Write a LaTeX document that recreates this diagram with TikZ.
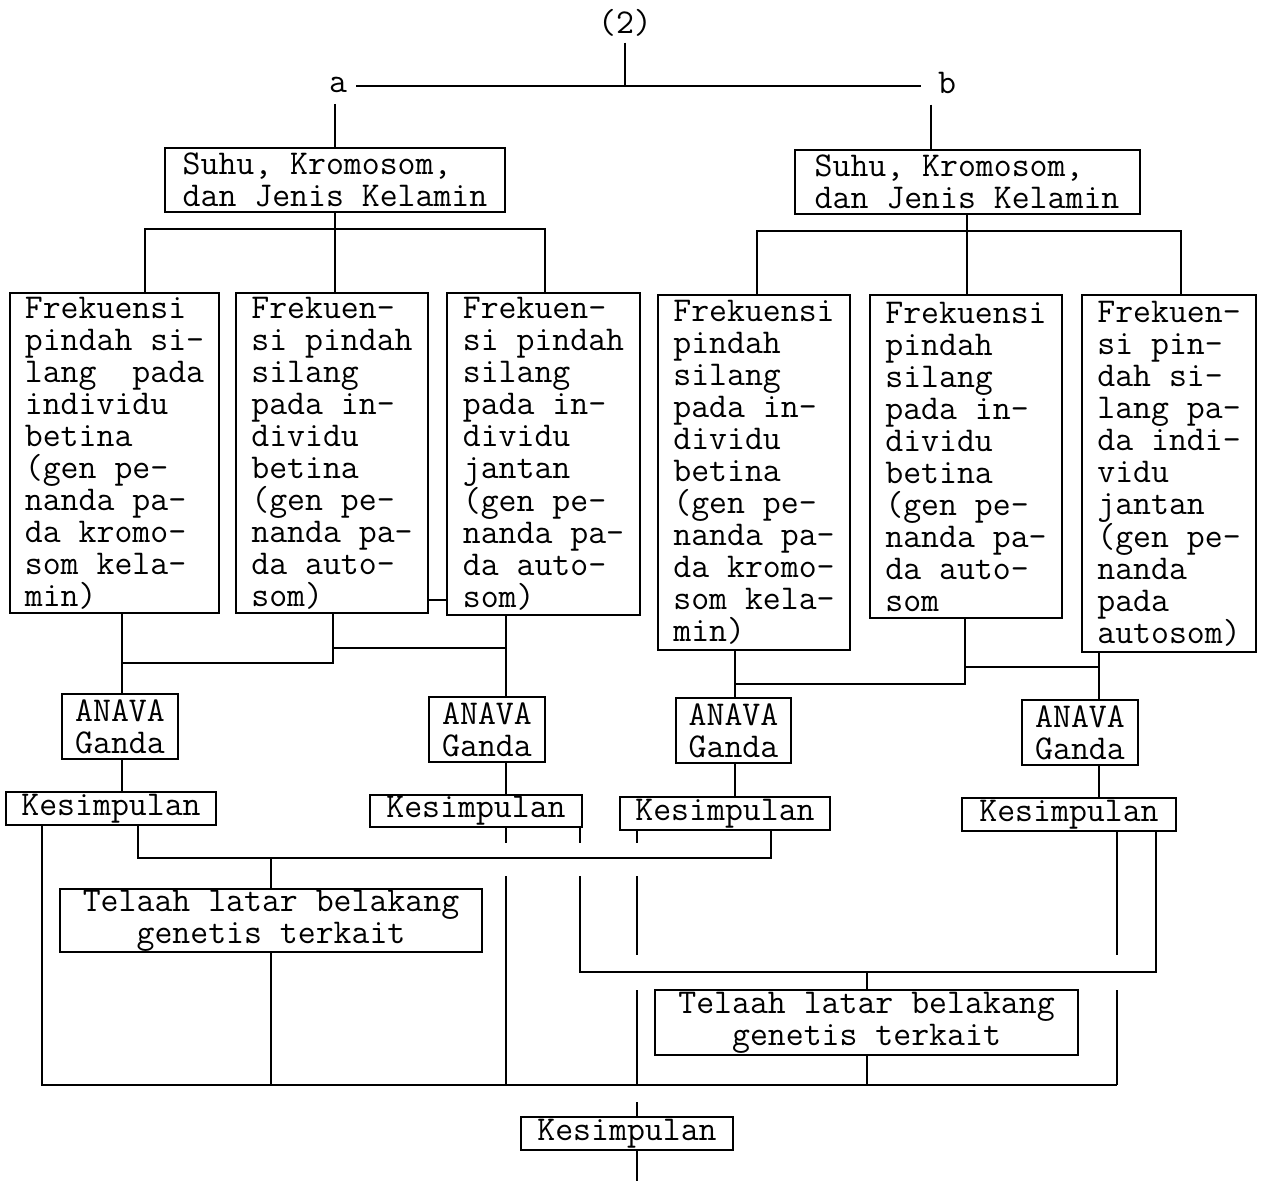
\documentclass[tikz,border=0pt]{standalone}
\usepackage{fontspec}
\usetikzlibrary{calc}
\begin{document}
\begin{tikzpicture}[x=1pt,y=-1pt,
  line width=2pt,
  every node/.style={font=\ttfamily\fontsize{34.8}{32}\selectfont},
  box/.style={draw, line width=2pt, inner sep=0pt, align=left},
  cbox/.style={box, align=center},
  lbl/.style={inner sep=0pt}]
\useasboundingbox (0,0) rectangle (1268,1181);

% ---------- labels at the top ----------
\node[lbl] (two) at (625,23) {(2)};
\node[lbl] (a) at (338,85) {a};
\node[lbl] (b) at (947,83) {b};

% ---------- boxes ----------
\node[box, minimum width=340pt, minimum height=64pt] (A1) at (335,180)
  {Suhu, Kromosom,\\dan Jenis Kelamin};
\node[box, minimum width=345pt, minimum height=64pt] (B1) at (967,182)
  {Suhu, Kromosom,\\dan Jenis Kelamin};

\node[box, minimum width=209pt, minimum height=320pt] (A2) at (114.5,453)
  {Frekuensi\\pindah si-\\lang\ \ pada\\individu\\betina\\(gen pe-\\nanda pa-\\da kromo-\\som kela-\\min)};
\node[box, minimum width=192pt, minimum height=320pt] (A3) at (332,453)
  {Frekuen-\\si pindah\\silang\\pada in-\\dividu\\betina\\(gen pe-\\nanda pa-\\da auto-\\som)};
\node[box, minimum width=193pt, minimum height=322pt] (A4) at (543.5,454)
  {Frekuen-\\si pindah\\silang\\pada in-\\dividu\\jantan\\(gen pe-\\nanda pa-\\da auto-\\som)};
\node[box, minimum width=192pt, minimum height=355pt] (B2) at (754,472.5)
  {Frekuensi\\pindah\\silang\\pada in-\\dividu\\betina\\(gen pe-\\nanda pa-\\da kromo-\\som kela-\\min)};
\node[box, minimum width=192pt, minimum height=323pt] (B3) at (966,456.5)
  {Frekuensi\\pindah\\silang\\pada in-\\dividu\\betina\\(gen pe-\\nanda pa-\\da auto-\\som};
\node[box, minimum width=174pt, minimum height=357pt] (B4) at (1169,473.5)
  {Frekuen-\\si pin-\\dah si-\\lang pa-\\da indi-\\vidu\\jantan\\(gen pe-\\nanda\\pada\\autosom)};

\node[cbox, minimum width=116pt, minimum height=65pt] (AN1) at (120,726.5) {ANAVA\\Ganda};
\node[cbox, minimum width=116pt, minimum height=65pt] (AN2) at (487,729.5) {ANAVA\\Ganda};
\node[cbox, minimum width=115pt, minimum height=65pt] (AN3) at (733.5,730.5) {ANAVA\\Ganda};
\node[cbox, minimum width=116pt, minimum height=65pt] (AN4) at (1080,732.5) {ANAVA\\Ganda};

\node[cbox, minimum width=210pt, minimum height=33pt] (K1) at (111,808.5) {Kesimpulan};
\node[cbox, minimum width=212pt, minimum height=32pt] (K2) at (476,811) {Kesimpulan};
\node[cbox, minimum width=210pt, minimum height=33pt] (K3) at (725,813.5) {Kesimpulan};
\node[cbox, minimum width=214pt, minimum height=33pt] (K4) at (1069,814.5) {Kesimpulan};

\node[cbox, minimum width=422pt, minimum height=63pt] (T1) at (271,920.5)
  {Telaah latar belakang\\genetis terkait};
\node[cbox, minimum width=423pt, minimum height=65pt] (T2) at (866.5,1022.5)
  {Telaah latar belakang\\genetis terkait};

\node[cbox, minimum width=212pt, minimum height=33pt] (KF) at (627,1133.5) {Kesimpulan};

% ---------- columns and rows used by the connectors ----------
\coordinate (hub) at (625,86);
\coordinate (hL) at (356,86);
\coordinate (hR) at (921,86);
\coordinate (cb) at (931,0);
\coordinate (yA) at (0,229);
\coordinate (yB) at (0,231);
\coordinate (cA2) at (145,0);
\coordinate (cA4) at (545,0);
\coordinate (cB2) at (757,0);
\coordinate (cB4) at (1181,0);
\coordinate (c1) at (122,0);
\coordinate (c2) at (333,0);
\coordinate (c3) at (506,0);
\coordinate (c4) at (735,0);
\coordinate (c5) at (965,0);
\coordinate (c6) at (1099,0);
\coordinate (yA23) at (0,663);
\coordinate (yA34) at (0,648);
\coordinate (yB23) at (0,684);
\coordinate (yB34) at (0,667);
\coordinate (ystep) at (0,600);
\coordinate (k1l) at (42,0);
\coordinate (k1r) at (138,0);
\coordinate (k2r) at (580,0);
\coordinate (k3l) at (637,0);
\coordinate (k3r) at (771,0);
\coordinate (k4l) at (1117,0);
\coordinate (k4r) at (1156,0);
\coordinate (yK) at (0,858);
\coordinate (yT) at (0,972);
\coordinate (yF) at (0,1085);
\coordinate (yEnd) at (0,1181);
\coordinate (aBot) at ($(a.south)+(0,10)$);
\coordinate (bBot) at ($(b.south)+(0,10)$);

% ---------- top split ----------
\draw ($(two.south)+(0,5)$) -- (hub);
\draw (hL) -- (hR);
\draw (aBot -| A1.north) -- (A1.north);
\draw (bBot -| cb) -- (cb |- B1.north);

% ---------- forks to the six frequency boxes ----------
\draw (A1.south) -- (A1.south |- A3.north);
\draw (cA2 |- A2.north) -- (cA2 |- yA) -- (cA4 |- yA) -- (cA4 |- A4.north);
\draw (B1.south) -- (B1.south |- B3.north);
\draw (cB2 |- B2.north) -- (cB2 |- yB) -- (cB4 |- yB) -- (cB4 |- B4.north);
\draw (A3.east |- ystep) -- (A4.west |- ystep);

% ---------- frequency boxes to ANAVA ----------
\draw (c1 |- A2.south) -- (c1 |- AN1.north);
\draw (c2 |- A3.south) -- (c2 |- yA23) -- (c1 |- yA23);
\draw (c2 |- yA34) -- (c3 |- yA34);
\draw (c3 |- A4.south) -- (c3 |- AN2.north);
\draw (c4 |- B2.south) -- (c4 |- AN3.north);
\draw (c5 |- B3.south) -- (c5 |- yB23) -- (c4 |- yB23);
\draw (c5 |- yB34) -- (c6 |- yB34);
\draw (c6 |- B4.south) -- (c6 |- AN4.north);

% ---------- ANAVA to conclusions ----------
\draw (c1 |- AN1.south) -- (c1 |- K1.north);
\draw (c3 |- AN2.south) -- (c3 |- K2.north);
\draw (c4 |- AN3.south) -- (c4 |- K3.north);
\draw (c6 |- AN4.south) -- (c6 |- K4.north);

% ---------- conclusions to the two reviews ----------
\draw (k1r |- K1.south) -- (k1r |- yK) -- (k3r |- yK) -- (k3r |- K3.south);
\draw (T1.north) -- (T1.north |- yK);
\draw (k2r |- K2.south) -- ($(k2r |- yK)+(0,-15)$);
\draw ($(k2r |- yK)+(0,18)$) -- (k2r |- yT) -- (k4r |- yT) -- (k4r |- K4.south);
\draw (T2.north) -- (T2.north |- yT);

% ---------- everything into the final conclusion ----------
\draw (k1l |- K1.south) -- (k1l |- yF) -- (k4l |- yF);
\draw (T1.south) -- (T1.south |- yF);
\draw (c3 |- K2.south) -- ($(c3 |- yK)+(0,-15)$);
\draw ($(c3 |- yK)+(0,18)$) -- (c3 |- yF);
\draw (k3l |- K3.south) -- ($(k3l |- yK)+(0,-15)$);
\draw ($(k3l |- yK)+(0,18)$) -- ($(k3l |- yT)+(0,-17)$);
\draw ($(k3l |- yT)+(0,18)$) -- (k3l |- yF);
\draw (T2.south) -- (T2.south |- yF);
\draw (k4l |- K4.south) -- ($(k4l |- yT)+(0,-17)$);
\draw ($(k4l |- yT)+(0,18)$) -- (k4l |- yF);
\draw ($(k3l |- yF)+(0,17)$) -- (k3l |- KF.north);
\draw (k3l |- KF.south) -- (k3l |- yEnd);
\end{tikzpicture}
\end{document}
